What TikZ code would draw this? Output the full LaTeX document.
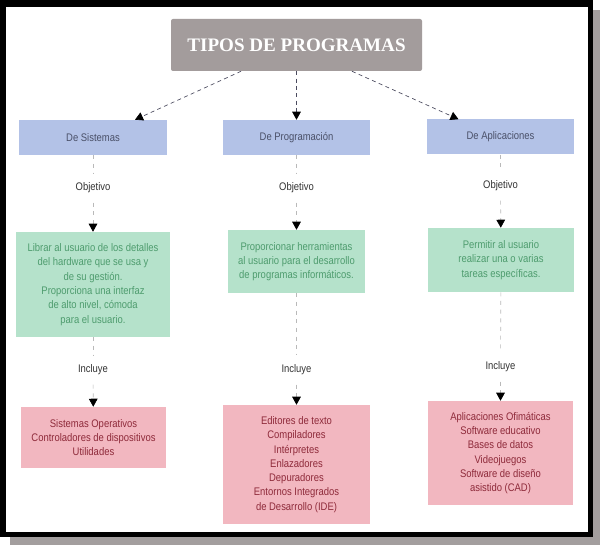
\documentclass[tikz,border=0pt]{standalone}
\usepackage{fontspec}
\setmainfont{Liberation Sans}[FakeStretch=0.86]
\newfontfamily\titlefont{Liberation Serif}
\usetikzlibrary{arrows.meta}

\definecolor{sombra}{HTML}{A39E9E}
\definecolor{gristit}{HTML}{A39C9C}
\definecolor{azul}{HTML}{B3C2E7}
\definecolor{azultxt}{HTML}{4A5068}
\definecolor{verde}{HTML}{B5E2CB}
\definecolor{verdetxt}{HTML}{4E9C6E}
\definecolor{rosa}{HTML}{F2B7C0}
\definecolor{rosatxt}{HTML}{8E2A3A}
\definecolor{etqtxt}{HTML}{333333}
\definecolor{ramatxt}{HTML}{4A4A5E}

\newcommand{\texto}{\fontsize{8.25}{10.7}\selectfont}

\begin{document}
\begin{tikzpicture}[x=0.75pt, y=-0.75pt,
    titulo/.style={fill=gristit, rounded corners=1.5pt, text=white,
      font=\titlefont\bfseries\fontsize{14.3}{17}\selectfont,
      minimum width=188.25pt, minimum height=39pt},
    tipo/.style={fill=azul, text=azultxt, font=\texto, minimum height=26.25pt},
    objetivo/.style={fill=verde, text=verdetxt, font=\texto, align=center},
    ejemplos/.style={fill=rosa, text=rosatxt, font=\texto, align=center},
    etiqueta/.style={text=etqtxt, font=\texto, inner sep=7pt},
    enlace/.style={draw=gray!55, line width=0.5pt, dash pattern=on 3pt off 3.5pt},
    flecha/.style={enlace, -{Triangle[width=6.5pt, length=6pt, color=black]}},
    rama/.style={draw=ramatxt, line width=0.5pt, dash pattern=on 3pt off 2.5pt,
      -{Triangle[width=6.5pt, length=6pt, color=black]}}]
  \useasboundingbox (0,0) rectangle (600,545);

  % Marco con sombra
  \fill[sombra] (10,10) rectangle (600,545);
  \fill[black] (0,0) rectangle (593,537);
  \fill[white] (6,7) rectangle (588,532);

  % Titulo
  \node[titulo] (tipos) at (296.5,45) {TIPOS DE PROGRAMAS};

  % Tipos
  \node[tipo, minimum width=111pt]   (sis)  at (93,137.5)   {De Sistemas};
  \node[tipo, minimum width=110.25pt] (prog) at (296.5,137.5) {De Programación};
  \node[tipo, minimum width=110.25pt] (apl)  at (500.5,137)  {De Aplicaciones};

  % Objetivos
  \node[etiqueta] (obj1) at (93,188)    {Objetivo};
  \node[etiqueta] (obj2) at (296.5,188) {Objetivo};
  \node[etiqueta] (obj3) at (500.5,186) {Objetivo};

  \node[objetivo, minimum width=115.5pt, minimum height=78.75pt] (fin1) at (93,284.5)
    {Librar al usuario de los detalles\\del hardware que se usa y\\de su gestión.\\
     Proporciona una interfaz\\de alto nivel, cómoda\\para el usuario.};
  \node[objetivo, minimum width=102.75pt, minimum height=47.25pt] (fin2) at (296.5,261.5)
    {Proporcionar herramientas\\al usuario para el desarrollo\\de programas informáticos.};
  \node[objetivo, minimum width=109.5pt, minimum height=48pt] (fin3) at (501,260)
    {Permitir al usuario\\realizar una o varias\\tareas específicas.};

  % Incluye
  \node[etiqueta] (inc1) at (93,370)    {Incluye};
  \node[etiqueta] (inc2) at (296.5,370) {Incluye};
  \node[etiqueta] (inc3) at (500.5,367) {Incluye};

  \node[ejemplos, minimum width=108.75pt, minimum height=45.75pt] (ej1) at (93.5,437.5)
    {Sistemas Operativos\\Controladores de dispositivos\\Utilidades};
  \node[ejemplos, minimum width=110.25pt, minimum height=89.25pt] (ej2) at (296.5,464.5)
    {Editores de texto\\Compiladores\\Intérpretes\\Enlazadores\\Depuradores\\
     Entornos Integrados\\de Desarrollo (IDE)};
  \node[ejemplos, minimum width=108.75pt, minimum height=78pt] (ej3) at (500.5,453)
    {Aplicaciones Ofimáticas\\Software educativo\\Bases de datos\\Videojuegos\\
     Software de diseño\\asistido (CAD)};

  % Ramas del titulo
  \draw[rama] ([xshift=-41.6pt]tipos.south) -- ([xshift=31.5pt]sis.north);
  \draw[rama] (tipos) -- (prog);
  \draw[rama] ([xshift=41.6pt]tipos.south) -- ([xshift=-31.5pt]apl.north);

  % Columnas
  \foreach \i/\t in {1/sis, 2/prog, 3/apl} {
    \draw[enlace] (\t) -- (obj\i);
    \draw[flecha] (obj\i) -- (fin\i);
    \draw[enlace] (fin\i) -- (inc\i);
    \draw[flecha] (inc\i) -- (ej\i);
  }
\end{tikzpicture}
\end{document}
